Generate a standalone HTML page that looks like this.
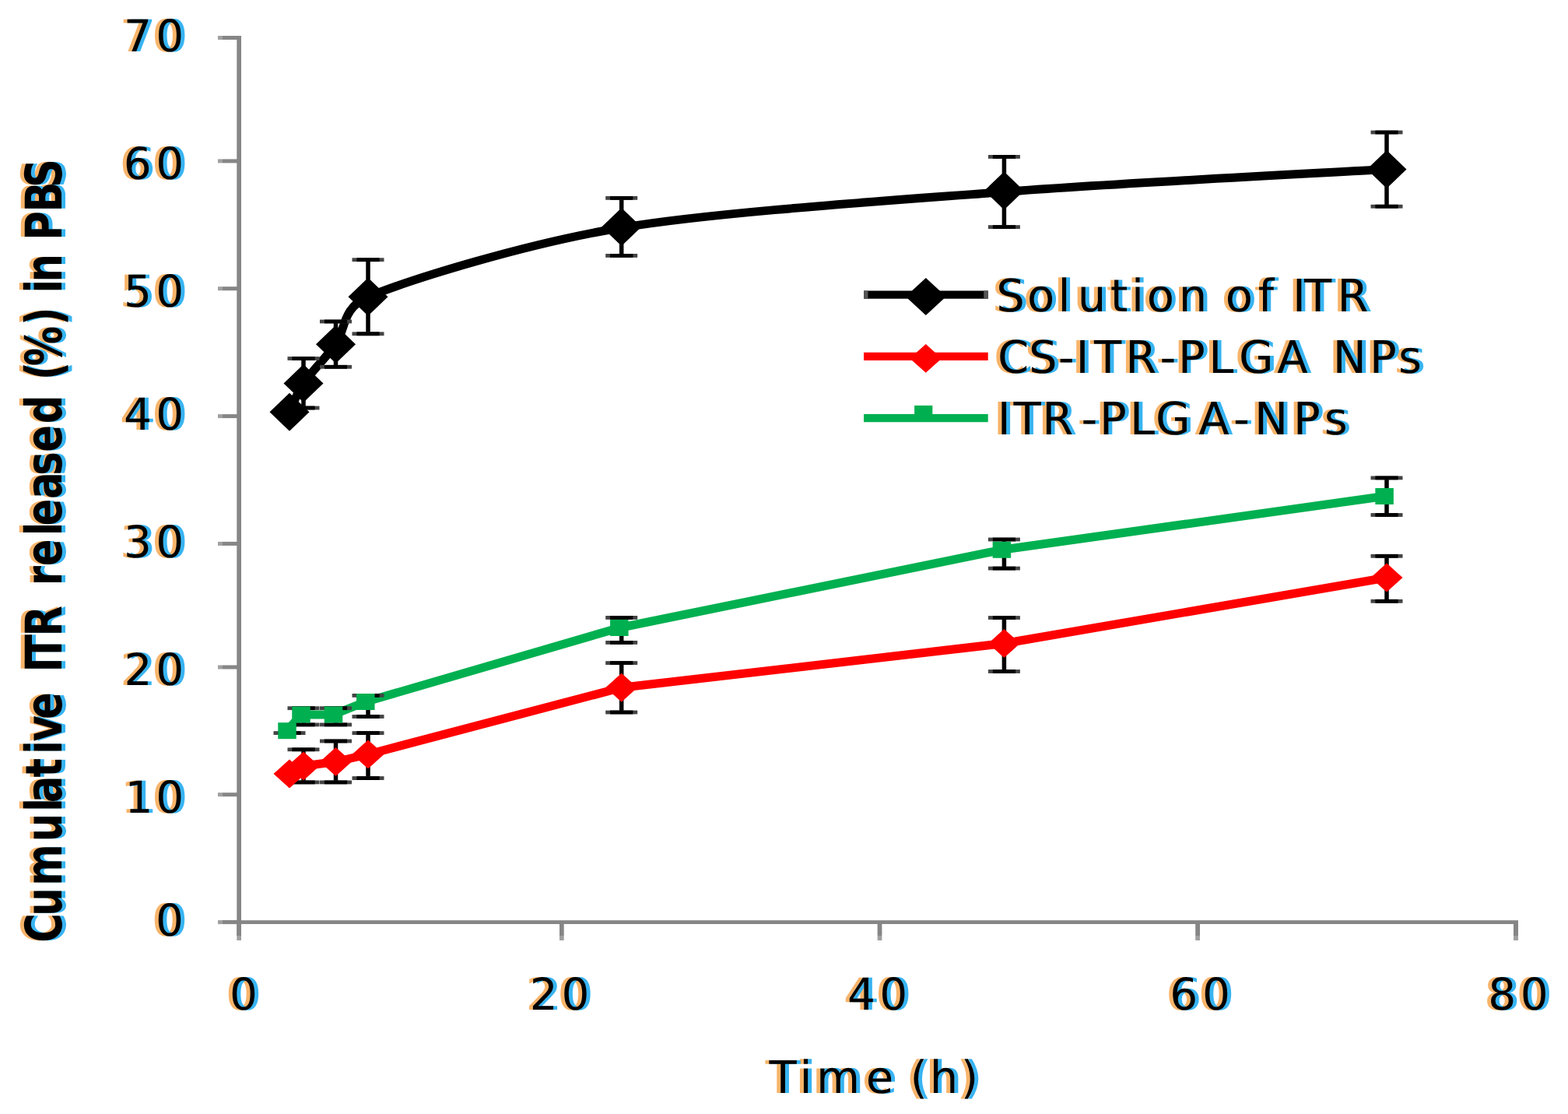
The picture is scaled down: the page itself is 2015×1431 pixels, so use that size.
<!DOCTYPE html>
<html><head><meta charset="utf-8"><title>Cumulative ITR release</title>
<style>html,body{margin:0;padding:0;background:#fff;overflow:hidden}svg{display:block}text{font-kerning:none;font-variant-ligatures:none;text-rendering:geometricPrecision}</style>
</head><body>
<svg width="2015" height="1431" viewBox="0 0 2015 1431">
<rect width="2015" height="1431" fill="#fff"/>
<defs><filter id="ctx" x="-50%" y="-30%" width="200%" height="160%" color-interpolation-filters="sRGB"><feOffset in="SourceAlpha" dx="-5.0" dy="0" result="l"/><feFlood flood-color="#f8b46a"/><feComposite in2="l" operator="in" result="lo"/><feOffset in="SourceAlpha" dx="5.0" dy="0" result="r"/><feFlood flood-color="#38b4f2"/><feComposite in2="r" operator="in" result="ro"/><feMerge><feMergeNode in="lo"/><feMergeNode in="ro"/><feMergeNode in="SourceGraphic"/></feMerge></filter><filter id="cty" x="-50%" y="-30%" width="200%" height="160%" color-interpolation-filters="sRGB"><feOffset in="SourceAlpha" dx="0" dy="-5.0" result="l"/><feFlood flood-color="#f8b46a"/><feComposite in2="l" operator="in" result="lo"/><feOffset in="SourceAlpha" dx="0" dy="5.0" result="r"/><feFlood flood-color="#38b4f2"/><feComposite in2="r" operator="in" result="ro"/><feMerge><feMergeNode in="lo"/><feMergeNode in="ro"/><feMergeNode in="SourceGraphic"/></feMerge></filter></defs>
<g fill="#868686">
<rect x="304.3" y="46" width="5.7" height="1156"/>
<rect x="286" y="46.0" width="19" height="5"/>
<rect x="280" y="46.0" width="6" height="5" fill="#a0a0a0"/>
<rect x="286" y="204.4" width="19" height="5"/>
<rect x="280" y="204.4" width="6" height="5" fill="#a0a0a0"/>
<rect x="286" y="368.2" width="19" height="5"/>
<rect x="280" y="368.2" width="6" height="5" fill="#a0a0a0"/>
<rect x="286" y="532.1" width="19" height="5"/>
<rect x="280" y="532.1" width="6" height="5" fill="#a0a0a0"/>
<rect x="286" y="695.9" width="19" height="5"/>
<rect x="280" y="695.9" width="6" height="5" fill="#a0a0a0"/>
<rect x="286" y="854.5" width="19" height="5"/>
<rect x="280" y="854.5" width="6" height="5" fill="#a0a0a0"/>
<rect x="286" y="1018.2" width="19" height="5"/>
<rect x="280" y="1018.2" width="6" height="5" fill="#a0a0a0"/>
<rect x="286" y="1182.1" width="19" height="5"/>
<rect x="280" y="1182.1" width="6" height="5" fill="#a0a0a0"/>
<rect x="286" y="1182.2" width="1665" height="4.8"/>
<rect x="304.3" y="1185" width="5.7" height="17"/>
<rect x="304.3" y="1202" width="5.7" height="6" fill="#a0a0a0"/>
<rect x="719" y="1185" width="5.7" height="17"/>
<rect x="719" y="1202" width="5.7" height="6" fill="#a0a0a0"/>
<rect x="1127.6" y="1185" width="5.8" height="17"/>
<rect x="1127.6" y="1202" width="5.8" height="6" fill="#a0a0a0"/>
<rect x="1536.2" y="1185" width="5.8" height="17"/>
<rect x="1536.2" y="1202" width="5.8" height="6" fill="#a0a0a0"/>
<rect x="1945" y="1185" width="6.0" height="17"/>
<rect x="1945" y="1202" width="6.0" height="6" fill="#a0a0a0"/>
</g>
<path d="M372.0,529.3 C374.7,523.8 381.1,505.5 390.0,492.4 C398.9,479.3 419.1,458.9 431.5,442.2 C443.9,425.5 438.9,395.2 473.0,381.3 C528.1,358.8 676.1,312.7 798.7,292.5 C921.3,272.3 1142.9,257.8 1290.4,246.5 C1437.9,235.2 1708.3,221.8 1782.0,217.5" fill="none" stroke="#000" stroke-width="11" stroke-linejoin="round"/>
<g fill="#000"><rect x="387.25" y="460.50" width="5.5" height="63.50"/><rect x="369.50" y="458.10" width="41" height="4.8" fill="#444"/><rect x="375.40" y="458.10" width="29.2" height="4.8"/><rect x="369.50" y="521.60" width="41" height="4.8" fill="#444"/><rect x="375.40" y="521.60" width="29.2" height="4.8"/><rect x="428.75" y="413.00" width="5.5" height="58.30"/><rect x="411.00" y="410.60" width="41" height="4.8" fill="#444"/><rect x="416.90" y="410.60" width="29.2" height="4.8"/><rect x="411.00" y="468.90" width="41" height="4.8" fill="#444"/><rect x="416.90" y="468.90" width="29.2" height="4.8"/><rect x="470.25" y="333.70" width="5.5" height="95.10"/><rect x="452.50" y="331.30" width="41" height="4.8" fill="#444"/><rect x="458.40" y="331.30" width="29.2" height="4.8"/><rect x="452.50" y="426.40" width="41" height="4.8" fill="#444"/><rect x="458.40" y="426.40" width="29.2" height="4.8"/><rect x="795.95" y="254.40" width="5.5" height="74.00"/><rect x="778.20" y="252.00" width="41" height="4.8" fill="#444"/><rect x="784.10" y="252.00" width="29.2" height="4.8"/><rect x="778.20" y="326.00" width="41" height="4.8" fill="#444"/><rect x="784.10" y="326.00" width="29.2" height="4.8"/><rect x="1287.65" y="201.40" width="5.5" height="90.20"/><rect x="1269.90" y="199.00" width="41" height="4.8" fill="#444"/><rect x="1275.80" y="199.00" width="29.2" height="4.8"/><rect x="1269.90" y="289.20" width="41" height="4.8" fill="#444"/><rect x="1275.80" y="289.20" width="29.2" height="4.8"/><rect x="1779.25" y="170.00" width="5.5" height="95.20"/><rect x="1761.50" y="167.60" width="41" height="4.8" fill="#444"/><rect x="1767.40" y="167.60" width="29.2" height="4.8"/><rect x="1761.50" y="262.80" width="41" height="4.8" fill="#444"/><rect x="1767.40" y="262.80" width="29.2" height="4.8"/></g>
<g fill="#000"><path d="M372.0,504.8 L397.5,529.3 L372.0,553.8 L346.5,529.3Z"/><path d="M390.0,467.9 L415.5,492.4 L390.0,516.9 L364.5,492.4Z"/><path d="M431.5,417.7 L457.0,442.2 L431.5,466.7 L406.0,442.2Z"/><path d="M473.0,356.8 L498.5,381.3 L473.0,405.8 L447.5,381.3Z"/><path d="M798.7,267.0 L824.2,291.5 L798.7,316.0 L773.2,291.5Z"/><path d="M1290.4,220.5 L1315.9,245.0 L1290.4,269.5 L1264.9,245.0Z"/><path d="M1782.0,193.0 L1807.5,217.5 L1782.0,242.0 L1756.5,217.5Z"/></g>
<path d="M372.0,994.0 L390.0,984.0 L431.5,978.5 L473.0,969.0 L798.7,883.3 L1290.4,826.5 L1782.0,742.0" fill="none" stroke="#ff0000" stroke-width="11" stroke-linejoin="round"/>
<g fill="#000"><rect x="387.25" y="962.80" width="5.5" height="42.10"/><rect x="369.50" y="960.40" width="41" height="4.8" fill="#444"/><rect x="375.40" y="960.40" width="29.2" height="4.8"/><rect x="369.50" y="1002.50" width="41" height="4.8" fill="#444"/><rect x="375.40" y="1002.50" width="29.2" height="4.8"/><rect x="428.75" y="952.00" width="5.5" height="52.90"/><rect x="411.00" y="949.60" width="41" height="4.8" fill="#444"/><rect x="416.90" y="949.60" width="29.2" height="4.8"/><rect x="411.00" y="1002.50" width="41" height="4.8" fill="#444"/><rect x="416.90" y="1002.50" width="29.2" height="4.8"/><rect x="470.25" y="941.60" width="5.5" height="58.00"/><rect x="452.50" y="939.20" width="41" height="4.8" fill="#444"/><rect x="458.40" y="939.20" width="29.2" height="4.8"/><rect x="452.50" y="997.20" width="41" height="4.8" fill="#444"/><rect x="458.40" y="997.20" width="29.2" height="4.8"/><rect x="795.95" y="851.60" width="5.5" height="63.40"/><rect x="778.20" y="849.20" width="41" height="4.8" fill="#444"/><rect x="784.10" y="849.20" width="29.2" height="4.8"/><rect x="778.20" y="912.60" width="41" height="4.8" fill="#444"/><rect x="784.10" y="912.60" width="29.2" height="4.8"/><rect x="1287.65" y="793.50" width="5.5" height="69.00"/><rect x="1269.90" y="791.10" width="41" height="4.8" fill="#444"/><rect x="1275.80" y="791.10" width="29.2" height="4.8"/><rect x="1269.90" y="860.10" width="41" height="4.8" fill="#444"/><rect x="1275.80" y="860.10" width="29.2" height="4.8"/><rect x="1779.25" y="714.30" width="5.5" height="58.00"/><rect x="1761.50" y="711.90" width="41" height="4.8" fill="#444"/><rect x="1767.40" y="711.90" width="29.2" height="4.8"/><rect x="1761.50" y="769.90" width="41" height="4.8" fill="#444"/><rect x="1767.40" y="769.90" width="29.2" height="4.8"/></g>
<g fill="#ff0000"><path d="M372.0,975.5 L392.5,994.0 L372.0,1012.5 L351.5,994.0Z"/><path d="M390.0,965.5 L410.5,984.0 L390.0,1002.5 L369.5,984.0Z"/><path d="M431.5,960.0 L452.0,978.5 L431.5,997.0 L411.0,978.5Z"/><path d="M473.0,950.5 L493.5,969.0 L473.0,987.5 L452.5,969.0Z"/><path d="M798.7,864.8 L819.2,883.3 L798.7,901.8 L778.2,883.3Z"/><path d="M1290.4,808.0 L1310.9,826.5 L1290.4,845.0 L1269.9,826.5Z"/><path d="M1782.0,723.5 L1802.5,742.0 L1782.0,760.5 L1761.5,742.0Z"/></g>
<path d="M369.0,938.7 L387.0,918.0 L428.5,918.0 L469.8,901.5 L795.8,806.5 L1287.4,706.3 L1779.1,637.5" fill="none" stroke="#00b050" stroke-width="11" stroke-linejoin="round"/>
<g fill="#000"><rect x="351.50" y="939.20" width="41" height="4.8" fill="#444"/><rect x="357.40" y="939.20" width="29.2" height="4.8"/><rect x="387.25" y="909.70" width="5.5" height="21.20"/><rect x="369.50" y="907.30" width="41" height="4.8" fill="#444"/><rect x="375.40" y="907.30" width="29.2" height="4.8"/><rect x="369.50" y="928.50" width="41" height="4.8" fill="#444"/><rect x="375.40" y="928.50" width="29.2" height="4.8"/><rect x="428.75" y="909.70" width="5.5" height="21.20"/><rect x="411.00" y="907.30" width="41" height="4.8" fill="#444"/><rect x="416.90" y="907.30" width="29.2" height="4.8"/><rect x="411.00" y="928.50" width="41" height="4.8" fill="#444"/><rect x="416.90" y="928.50" width="29.2" height="4.8"/><rect x="470.25" y="893.40" width="5.5" height="27.10"/><rect x="452.50" y="891.00" width="41" height="4.8" fill="#444"/><rect x="458.40" y="891.00" width="29.2" height="4.8"/><rect x="452.50" y="918.10" width="41" height="4.8" fill="#444"/><rect x="458.40" y="918.10" width="29.2" height="4.8"/><rect x="795.95" y="793.40" width="5.5" height="32.00"/><rect x="778.20" y="791.00" width="41" height="4.8" fill="#444"/><rect x="784.10" y="791.00" width="29.2" height="4.8"/><rect x="778.20" y="823.00" width="41" height="4.8" fill="#444"/><rect x="784.10" y="823.00" width="29.2" height="4.8"/><rect x="1287.65" y="693.00" width="5.5" height="37.10"/><rect x="1269.90" y="690.60" width="41" height="4.8" fill="#444"/><rect x="1275.80" y="690.60" width="29.2" height="4.8"/><rect x="1269.90" y="727.70" width="41" height="4.8" fill="#444"/><rect x="1275.80" y="727.70" width="29.2" height="4.8"/><rect x="1779.25" y="613.90" width="5.5" height="47.60"/><rect x="1761.50" y="611.50" width="41" height="4.8" fill="#444"/><rect x="1767.40" y="611.50" width="29.2" height="4.8"/><rect x="1761.50" y="659.10" width="41" height="4.8" fill="#444"/><rect x="1767.40" y="659.10" width="29.2" height="4.8"/></g>
<g fill="#00b050"><rect x="357.25" y="928.20" width="23.5" height="21"/><rect x="375.25" y="907.50" width="23.5" height="21"/><rect x="416.75" y="907.50" width="23.5" height="21"/><rect x="458.05" y="891.00" width="23.5" height="21"/><rect x="784.05" y="796.00" width="23.5" height="21"/><rect x="1275.65" y="695.80" width="23.5" height="21"/><rect x="1767.35" y="627.00" width="23.5" height="21"/></g>
<rect x="1110" y="373.5" width="159.7" height="10.2" fill="#000"/>
<rect x="1110" y="373.5" width="5.5" height="10.2" fill="#555"/><rect x="1264.2" y="373.5" width="5.5" height="10.2" fill="#555"/>
<g fill="#000"><path d="M1189.8,357.0 L1215.8,381.0 L1189.8,405.0 L1163.8,381.0Z"/></g>
<rect x="1110" y="452.7" width="159.7" height="10.3" fill="#ff0000"/>
<g fill="#ff0000"><path d="M1189.7,442.0 L1210.2,460.4 L1189.7,478.8 L1169.2,460.4Z"/></g>
<rect x="1110" y="531.9" width="159.7" height="10.3" fill="#00b050"/>
<rect x="1175.1" y="520.9" width="23.2" height="21.1" fill="#00b050"/>
<text x="1280.32 1320.07 1359.38 1384.72 1426.82 1453.98 1473.87 1514.78 1551.28 1574.87 1616.65 1636.93 1661.01 1676.11 1718.59" y="399.50" style="font-family:'DejaVu Sans', 'Liberation Sans', sans-serif;font-weight:normal;font-size:57.60px" fill="#000" filter="url(#ctx)">Solution of ITR</text>
<text x="1282.03 1322.12 1359.81 1382.51 1406.11 1446.19 1490.41 1514.09 1553.18 1591.93 1641.21 1680.62 1712.86 1760.09 1797.04" y="478.60" style="font-family:'DejaVu Sans', 'Liberation Sans', sans-serif;font-weight:normal;font-size:57.60px" fill="#000" filter="url(#ctx)">CS-ITR-PLGA NPs</text>
<text x="1281.71 1302.61 1339.29 1389.41 1412.99 1451.98 1484.93 1540.31 1585.11 1611.96 1662.09 1701.64" y="558.20" style="font-family:'DejaVu Sans', 'Liberation Sans', sans-serif;font-weight:normal;font-size:57.60px" fill="#000" filter="url(#ctx)">ITR-PLGA-NPs</text>
<text x="158.92 200.24" y="66.00" style="font-family:'DejaVu Sans', 'Liberation Sans', sans-serif;font-weight:normal;font-size:56.50px" fill="#000" filter="url(#ctx)">70</text>
<text x="158.63 200.24" y="229.90" style="font-family:'DejaVu Sans', 'Liberation Sans', sans-serif;font-weight:normal;font-size:56.50px" fill="#000" filter="url(#ctx)">60</text>
<text x="159.12 200.24" y="393.80" style="font-family:'DejaVu Sans', 'Liberation Sans', sans-serif;font-weight:normal;font-size:56.50px" fill="#000" filter="url(#ctx)">50</text>
<text x="159.03 200.24" y="552.10" style="font-family:'DejaVu Sans', 'Liberation Sans', sans-serif;font-weight:normal;font-size:56.50px" fill="#000" filter="url(#ctx)">40</text>
<text x="158.94 200.24" y="716.10" style="font-family:'DejaVu Sans', 'Liberation Sans', sans-serif;font-weight:normal;font-size:56.50px" fill="#000" filter="url(#ctx)">30</text>
<text x="159.59 200.24" y="879.80" style="font-family:'DejaVu Sans', 'Liberation Sans', sans-serif;font-weight:normal;font-size:56.50px" fill="#000" filter="url(#ctx)">20</text>
<text x="160.53 200.24" y="1043.80" style="font-family:'DejaVu Sans', 'Liberation Sans', sans-serif;font-weight:normal;font-size:56.50px" fill="#000" filter="url(#ctx)">10</text>
<text x="200.04" y="1202.10" style="font-family:'DejaVu Sans', 'Liberation Sans', sans-serif;font-weight:normal;font-size:56.50px" fill="#000" filter="url(#ctx)">0</text>
<text x="294.94" y="1296.90" style="font-family:'DejaVu Sans', 'Liberation Sans', sans-serif;font-weight:normal;font-size:56.50px" fill="#000" filter="url(#ctx)">0</text>
<text x="680.69 721.44" y="1296.90" style="font-family:'DejaVu Sans', 'Liberation Sans', sans-serif;font-weight:normal;font-size:56.50px" fill="#000" filter="url(#ctx)">20</text>
<text x="1088.93 1130.34" y="1296.90" style="font-family:'DejaVu Sans', 'Liberation Sans', sans-serif;font-weight:normal;font-size:56.50px" fill="#000" filter="url(#ctx)">40</text>
<text x="1503.23 1544.94" y="1296.90" style="font-family:'DejaVu Sans', 'Liberation Sans', sans-serif;font-weight:normal;font-size:56.50px" fill="#000" filter="url(#ctx)">60</text>
<text x="1912.24 1953.64" y="1296.90" style="font-family:'DejaVu Sans', 'Liberation Sans', sans-serif;font-weight:normal;font-size:56.50px" fill="#000" filter="url(#ctx)">80</text>
<text x="988.46 1027.53 1049.03 1112.82 1148.26 1169.45 1194.63 1234.83" y="1403.60" style="font-family:'DejaVu Sans', 'Liberation Sans', sans-serif;font-weight:normal;font-size:57.60px" fill="#000" filter="url(#ctx)">Time (h)</text>
<g transform="rotate(-90) scale(0.878,1)"><text x="-1379.00 -1340.26 -1295.81 -1231.55 -1187.69 -1174.59 -1137.14 -1103.41 -1084.93 -1052.51 -1012.89 -983.52 -968.08 -931.18 -886.21 -856.76 -828.30 -783.93 -769.25 -729.94 -695.70 -661.45 -619.83 -578.03 -556.23 -535.53 -476.17 -449.48 -428.81 -412.76 -371.19 -351.58 -310.47 -274.40" y="78.90" style="font-family:'DejaVu Sans Condensed', 'DejaVu Sans', sans-serif;font-weight:bold;font-size:64.90px" fill="#000" filter="url(#cty)">Cumulative ITR released (%) in PBS</text></g>
</svg>
</body></html>
